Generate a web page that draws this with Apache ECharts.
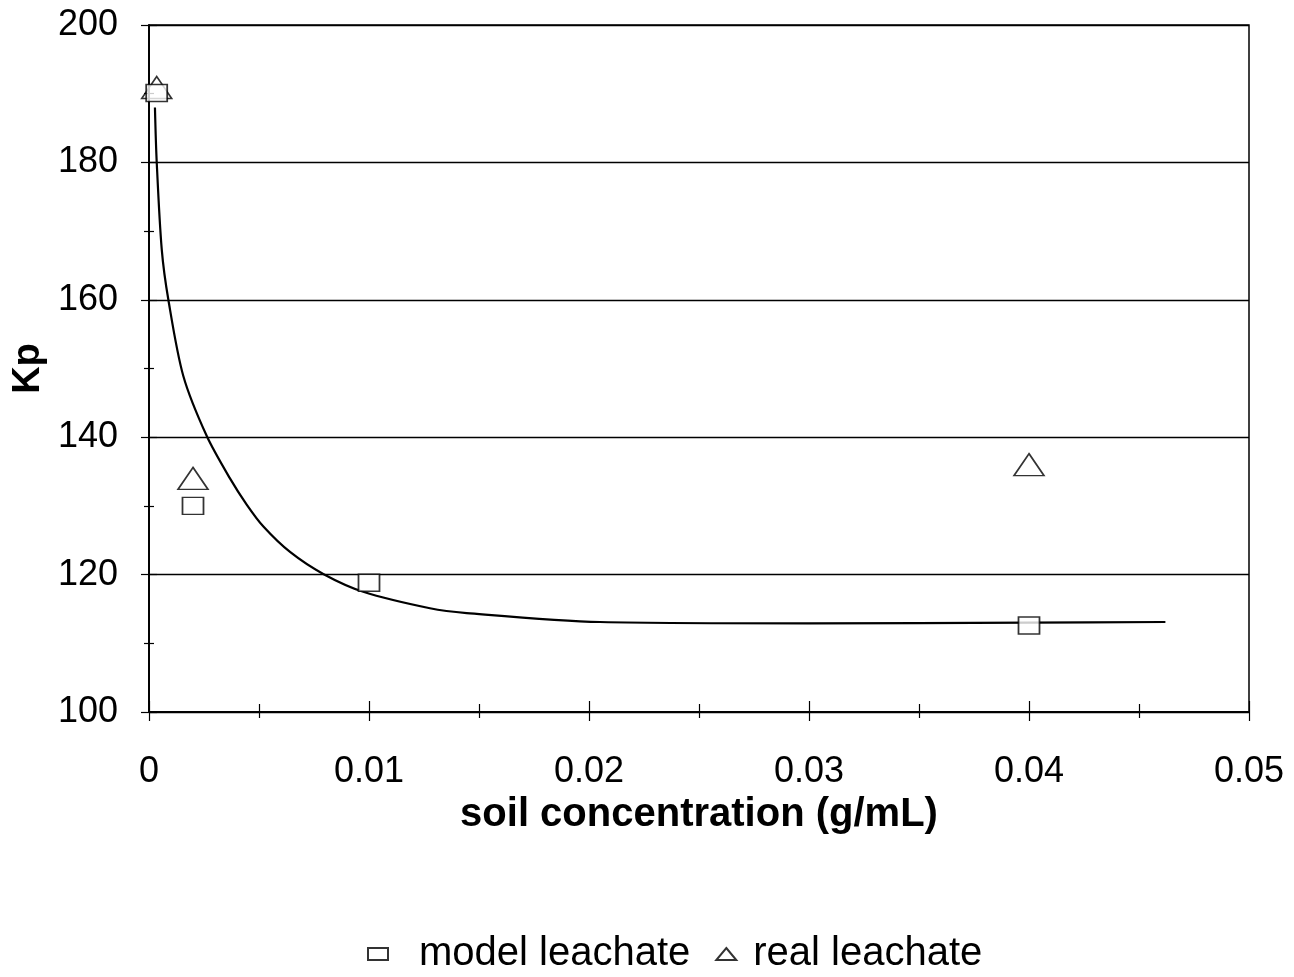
<!DOCTYPE html>
<html>
<head>
<meta charset="utf-8">
<script src="https://cdn.jsdelivr.net/npm/echarts@6/dist/echarts.min.js"></script>
<style>
  html, body { margin: 0; padding: 0; background: #fff; }
  #main { width: 1294px; height: 977px; }
</style>
</head>
<body>
<div id="main"></div>
<script>
// measured points
var modelX = [0.00035, 0.002, 0.01, 0.04];
var modelKp = [190.1, 130.0, 118.8, 112.6];
var realX = [0.00035, 0.002, 0.04];
var realKp = [190.9, 134.0, 136.0];

// fitted curve
var curveX = [0.00027, 0.00035, 0.00058, 0.00088, 0.00156, 0.00262, 0.00368, 0.00444, 0.0052, 0.00641, 0.00792, 0.00974, 0.01277, 0.01444, 0.0205, 0.03, 0.04, 0.0462];
var curveKp = [188, 180.1, 167.3, 160.0, 148.9, 140.2, 134.0, 130.2, 127.0, 123.3, 120.1, 117.5, 115.1, 114.4, 113.1, 112.9, 113.0, 113.1];

var xTicks = [0, 0.01, 0.02, 0.03, 0.04, 0.05];
var yTicks = [100, 120, 140, 160, 180, 200];

function pairs(xs, ys) {
  return xs.map(function (x, i) { return [x, ys[i]]; });
}

var font = '"Liberation Sans", Arial, sans-serif';
var tickStyle = { color: '#000', width: 1.2 };
var lineStyle = { color: '#000', width: 1.5 };

var myChart = echarts.init(document.getElementById('main'));
myChart.setOption({
  backgroundColor: '#fff',
  animation: false,
  grid: {
    show: true, borderColor: '#000', borderWidth: 1.5,
    left: 149, right: 45, top: 25, bottom: 265
  },
  legend: {
    left: 362,
    top: 929,
    itemWidth: 20,
    itemHeight: 12,
    itemGap: 25,
    textStyle: { fontFamily: font, fontSize: 40, color: '#000' },
    data: [
      { name: 'model leachate', icon: 'rect', textStyle: { padding: [0, 0, 0, 26] } },
      { name: 'real leachate', icon: 'triangle', textStyle: { padding: [0, 0, 0, 12] } }
    ]
  },
  xAxis: [
    {
      type: 'value',
      position: 'bottom',
      min: xTicks[0],
      max: xTicks[xTicks.length - 1],
      interval: 0.01,
      name: 'soil concentration (g/mL)',
      nameLocation: 'middle',
      nameGap: 80,
      nameTextStyle: { fontFamily: font, fontSize: 40, fontWeight: 'bold', color: '#000' },
      axisLine: { show: true, onZero: false, lineStyle: lineStyle },
      axisTick: { show: true, length: 9, lineStyle: tickStyle },
      minorTick: { show: true, splitNumber: 2, length: 6, lineStyle: tickStyle },
      axisLabel: {
        margin: 42,
        fontFamily: font,
        fontSize: 36,
        color: '#000',
        formatter: function (v) { return v === 0 ? '0' : v.toFixed(2); }
      },
      splitLine: { show: false }
    },
    {
      // same scale again, only to draw the inner half of the ticks
      type: 'value',
      position: 'bottom',
      min: xTicks[0],
      max: xTicks[xTicks.length - 1],
      interval: 0.01,
      axisLine: { show: true, onZero: false, lineStyle: lineStyle },
      axisTick: { show: true, inside: true, length: 11, lineStyle: tickStyle },
      minorTick: { show: true, splitNumber: 2, length: 8, lineStyle: tickStyle },
      axisLabel: { show: false },
      splitLine: { show: false }
    }
  ],
  yAxis: [
    {
      type: 'value',
      position: 'left',
      min: yTicks[0],
      max: yTicks[yTicks.length - 1],
      interval: 20,
      name: 'Kp',
      nameLocation: 'middle',
      nameGap: 100,
      nameTextStyle: { fontFamily: font, fontSize: 38, fontWeight: 'bold', color: '#000' },
      axisLine: { show: true, onZero: false, lineStyle: lineStyle },
      axisTick: { show: true, length: 8, lineStyle: tickStyle },
      minorTick: { show: true, splitNumber: 2, length: 5, lineStyle: tickStyle },
      axisLabel: { margin: 31, fontFamily: font, fontSize: 36, color: '#000' },
      splitLine: { show: true, lineStyle: { color: '#000', width: 1.3 } }
    },
    {
      type: 'value',
      position: 'left',
      min: yTicks[0],
      max: yTicks[yTicks.length - 1],
      interval: 20,
      axisLine: { show: true, onZero: false, lineStyle: lineStyle },
      axisTick: { show: true, inside: true, length: 8, lineStyle: tickStyle },
      minorTick: { show: true, splitNumber: 2, length: 5, lineStyle: tickStyle },
      axisLabel: { show: false },
      splitLine: { show: false }
    }
  ],
  series: [
    {
      name: 'fit',
      type: 'line',
      xAxisIndex: 1,
      yAxisIndex: 1,
      data: pairs(curveX, curveKp),
      smooth: 0.3,
      showSymbol: false,
      lineStyle: { color: '#000', width: 2.2 },
      z: 2
    },
    {
      name: 'model leachate',
      type: 'scatter',
      xAxisIndex: 0,
      yAxisIndex: 0,
      data: pairs(modelX, modelKp),
      symbol: 'rect',
      symbolSize: [21, 17],
      itemStyle: { color: '#fff', borderColor: '#000', borderWidth: 1.6 },
      z: 4
    },
    {
      name: 'real leachate',
      type: 'scatter',
      xAxisIndex: 0,
      yAxisIndex: 0,
      data: pairs(realX, realKp),
      symbol: 'triangle',
      symbolSize: [30, 22],
      itemStyle: { color: 'rgba(255,255,255,0)', borderColor: '#000', borderWidth: 1.6 },
      z: 3
    }
  ]
});
</script>
</body>
</html>
